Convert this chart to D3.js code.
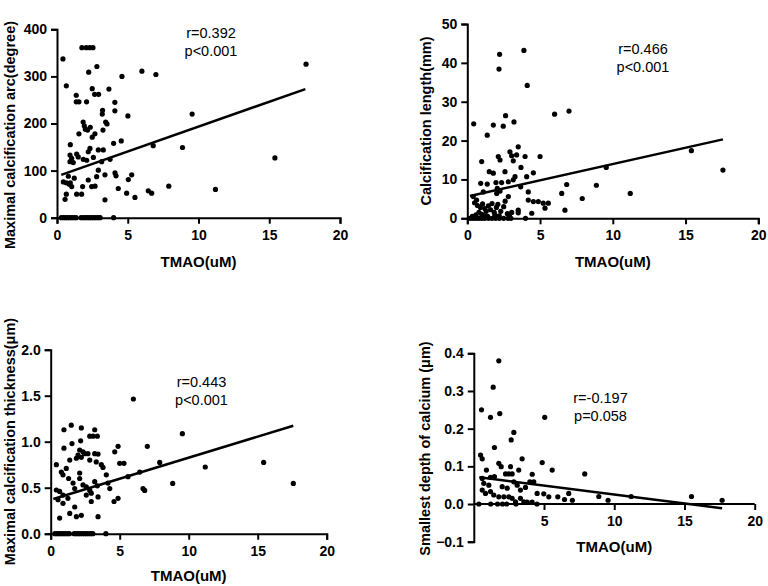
<!DOCTYPE html>
<html><head><meta charset="utf-8">
<script src="https://cdn.jsdelivr.net/npm/d3@7"></script>
<style>body{margin:0;background:#fff}svg{display:block}</style>
</head><body>
<svg id="c" width="768" height="586"></svg>
<script>
// ---------- data ----------
const xTicks = [0, 5, 10, 15, 20];
const xTicks4 = [5, 10, 15, 20];
const yTicks1 = [0, 100, 200, 300, 400];
const yTicks2 = [0, 10, 20, 30, 40, 50];
const yTicks3 = [0, 0.5, 1.0, 1.5, 2.0];
const yTicks4 = [-0.1, 0.0, 0.1, 0.2, 0.3, 0.4];

const titles = ["Maximal calcification arc(degree)", "Calcification length(mm)",
  "Maximal calcification thickness(\u03bcm)", "Smallest depth of calcium (\u03bcm)"];
const xTitle = "TMAO(uM)";
const stats = [["r=0.392", "p<0.001"], ["r=0.466", "p<0.001"], ["r=0.443", "p<0.001"], ["r=-0.197", "p=0.058"]];

// regression fits: [intercept, slope] and drawn x-range
const fits = [[87.8, 10.56], [5.6, 0.837], [0.368, 0.0458], [0.0729, -0.00477]];
const fitRanges = [[0.3, 17.55], [0.18, 17.57], [0.19, 17.58], [0.39, 17.68]];

const zeroX = [0.3, 0.45, 0.6, 0.75, 0.9, 1.05, 1.2, 1.35, 1.7, 1.85, 2.0, 2.15, 2.3, 2.45, 2.6, 2.75, 2.9, 3.05, 4.0];

const pts1 = [
  [0.42,337],[0.66,280],[1.76,361],[2.07,361],[2.31,361],[2.54,361],[2.82,321],[2.24,309],[6.0,311],[6.99,304],[4.59,300],[17.6,326],
  [2.49,274],[2.66,262],[2.94,262],[1.36,260],[1.36,246],[1.55,246],[2.09,246],[3.67,273],[4.09,245],[4.09,227],[3.22,228],[3.2,220],[5.01,216],[9.55,220],
  [1.85,203],[1.93,195],[2.35,192],[2.16,186],[2.0,188],[1.55,178],[2.68,178],[2.49,171],[3.44,203],[3.53,199],[3.25,186],
  [0.94,155],[2.92,144],[3.27,144],[2.33,147],[2.21,140],[1.39,135],[4.0,158],[4.54,163],[6.8,153],[8.87,149],[15.4,127],
  [0.92,133],[1.04,126],[0.92,119],[1.15,117],[1.5,129],[1.86,124],[2.1,122],[2.57,128],[3.16,119],[3.75,124],
  [2.92,101],[2.8,87],[3.39,91],[4.1,95],[4.17,89],[5.28,91],[5.04,81],[2.21,80],[1.22,84],[0.8,88],
  [0.45,76],[0.66,74],[0.94,74],[1.04,66],[0.87,71],[0.66,50],[0.57,39],[1.39,50],[1.74,50],[1.81,66],[2.45,66],[2.69,67],
  [4.33,62],[4.92,52],[5.51,43],[6.45,57],[6.69,52],[7.9,67],[11.2,60],[3.39,38]
].concat(zeroX.map(x => [x, 0]));

const pts2 = [
  [2.22,42.2],[3.89,43.2],[2.18,38.4],[4.12,34.2],[6.99,27.6],[6.0,26.8],[2.63,26.4],[3.21,24.8],[0.44,24.3],[1.79,24.0],[2.47,23.7],[1.37,21.4],[3.5,18.4],
  [2.93,17.1],[3.05,16.1],[2.13,15.9],[2.25,15.0],[3.39,16.3],[3.97,15.9],[5.0,15.9],[3.16,14.8],[0.99,14.6],[3.69,13.1],[15.4,17.4],[9.55,13.1],[17.57,12.4],
  [1.51,12.0],[1.79,11.6],[2.59,12.0],[4.54,11.7],[3.28,10.7],[3.16,9.9],[4.08,10.7],[2.82,9.4],[2.36,9.2],[1.97,9.2],[1.37,8.8],[0.92,9.0],[6.83,8.7],[8.87,8.5],
  [2.06,7.7],[2.25,7.0],[2.02,6.4],[1.1,6.8],[4.19,6.8],[6.49,6.4],[11.2,6.4],[3.67,8.1],[2.82,5.6],[7.9,5.1],
  [0.41,5.6],[0.64,4.7],[4.19,4.7],[4.54,4.3],[4.88,4.3],[5.22,3.9],[5.57,3.9],[5.34,2.6],[3.5,2.1],[3.5,1.4],[6.71,2.1],[4.43,1.3],
  [0.5,4.0],[0.7,3.3],[0.9,2.8],[1.05,3.7],[1.2,2.5],[1.3,1.8],[1.45,3.2],[1.6,2.2],[1.7,3.8],[1.85,1.5],[2.0,2.8],[2.1,3.6],[2.3,1.8],[2.5,3.0],[2.6,4.4],[2.75,1.2],
  [0.8,1.5],[1.0,1.0],[1.15,0.7],[1.4,0.5],[1.9,0.8],[2.2,0.6],[2.9,0.9],[3.05,1.5],[0.6,0.9],[0.35,0.5],
  [0.2,0],[0.4,0],[0.6,0],[0.8,0],[1.0,0],[1.2,0],[1.45,0],[1.7,0],[1.95,0],[2.2,0],[2.5,0],[2.8,0],[3.0,0],[4.0,0]
];

const pts3 = [
  [5.99,1.464],[1.49,1.18],[0.96,1.13],[2.22,1.15],[3.19,1.13],[2.83,1.06],[3.07,1.06],[3.38,1.06],[1.54,0.98],[2.17,1.01],[0.96,0.93],[9.54,1.087],
  [2.1,0.91],[2.34,0.89],[2.46,0.87],[1.98,0.855],[1.86,0.82],[2.22,0.83],[2.7,0.87],[2.83,0.80],[3.19,0.87],[3.43,0.866],[3.3,0.78],[3.67,0.75],[3.79,0.72],[4.03,0.64],
  [0.41,0.75],[0.77,0.67],[0.89,0.64],[1.13,0.71],[1.38,0.80],[1.3,0.60],[1.62,0.55],[1.74,0.49],[2.1,0.66],[2.1,0.60],[2.34,0.53],[2.58,0.51],[2.83,0.47],[3.19,0.565],[3.38,0.52],
  [4.15,0.55],[4.28,0.49],[4.88,0.95],[4.64,0.89],[5.0,0.765],[5.31,0.765],[5.6,0.62],[6.45,0.67],[6.69,0.49],[6.81,0.47],[7.0,0.95],[4.88,0.385],[4.59,0.35],
  [7.9,0.775],[15.43,0.775],[11.2,0.725],[8.84,0.547],[17.58,0.547],
  [0.41,0.475],[0.65,0.46],[0.89,0.42],[0.53,0.37],[0.89,0.33],[1.25,0.385],[1.38,0.22],[1.74,0.29],[1.86,0.185],[2.22,0.20],[2.94,0.44],[3.43,0.40],[2.94,0.35],[3.43,0.185],[0.65,0.17],[2.58,0.42]
].concat(zeroX.map(x => [x, 0]));

const pts4 = [
  [1.78,0.38],[1.38,0.31],[0.55,0.25],[1.19,0.23],[1.85,0.24],[5.05,0.23],[2.85,0.19],[2.66,0.17],[1.47,0.15],[0.48,0.13],[0.6,0.12],[3.44,0.12],
  [1.78,0.108],[1.95,0.099],[2.61,0.099],[0.9,0.09],[3.2,0.09],[4.87,0.11],[5.58,0.09],[2.26,0.08],[2.49,0.08],[2.73,0.08],[4.16,0.079],[7.9,0.08],
  [0.6,0.068],[1.19,0.071],[1.47,0.073],[3.99,0.059],[4.27,0.059],[0.71,0.055],[1.07,0.05],[2.02,0.046],[2.85,0.059],[3.09,0.05],[3.68,0.044],[3.32,0.037],[2.38,0.042],
  [0.6,0.037],[0.83,0.028],[1.19,0.033],[1.42,0.024],[1.78,0.019],[2.14,0.019],[2.49,0.019],[2.73,0.015],[3.32,0.015],[3.56,0.006],[2.97,0.006],[3.8,0.005],[4.15,0.005],
  [4.51,0.028],[4.98,0.027],[5.34,0.019],[5.98,0.019],[6.46,0.012],[6.76,0.028],[7.02,0.01],[8.9,0.02],[9.56,0.01],[11.2,0.02],[15.5,0.02],[17.68,0.01],
  [0.36,0],[1.2,0],[1.69,0],[2.04,0],[2.34,0],[3.0,0],[4.5,0]
];

// ---------- layout ----------
const panels = [
  {pts: pts1, yDom: [0, 400], yTicks: yTicks1, xTicks: xTicks, fmt: d3.format("d"),
   x0: 57, x1: 340, yT: 29.3, yB: 217.7, yTitleX: 15, yTitleY: 135, xTitleY: 266.5,
   statX: 211, statY: 37.5},
  {pts: pts2, yDom: [0, 50], yTicks: yTicks2, xTicks: xTicks, fmt: d3.format("d"),
   x0: 467.3, x1: 758.3, yT: 24, yB: 218.3, yTitleX: 431, yTitleY: 121, xTitleY: 266.5,
   statX: 643, statY: 53.5},
  {pts: pts3, yDom: [0, 2], yTicks: yTicks3, xTicks: xTicks, fmt: d3.format(".1f"),
   x0: 50.7, x1: 326.7, yT: 349.7, yB: 533.7, yTitleX: 15, yTitleY: 441.5, xTitleY: 581,
   statX: 201.5, statY: 387.3},
  {pts: pts4, yDom: [-0.1, 0.4], yTicks: yTicks4, xTicks: xTicks4, fmt: d3.format(".1f"),
   x0: 473.8, x1: 754.7, yT: 353.3, yB: 541.7, yTitleX: 430, yTitleY: 448.5, xTitleY: 552,
   statX: 600.5, statY: 403, xAtZero: true}
];

const svg = d3.select("#c");
const FONT = "'Liberation Sans', Arial, sans-serif";

panels.forEach((p, i) => {
  const x = d3.scaleLinear().domain([0, 20]).range([p.x0, p.x1]);
  const y = d3.scaleLinear().domain(p.yDom).range([p.yB, p.yT]);
  const g = svg.append("g");
  const xAxisY = p.xAtZero ? y(0) : p.yB;

  const yAx = g.append("g").attr("transform", `translate(${p.x0},0)`)
    .call(d3.axisLeft(y).tickValues(p.yTicks).tickFormat(p.fmt).tickSize(6).tickPadding(4));
  const xAx = g.append("g").attr("transform", `translate(0,${xAxisY})`)
    .call(d3.axisBottom(x).tickValues(p.xTicks).tickFormat(d3.format("d")).tickSize(6).tickPadding(6));
  if (p.xAtZero) xAx.select(".domain").attr("d", `M${p.x0},0H${p.x1}`);
  [yAx, xAx].forEach(a => {
    a.select(".domain").attr("stroke", "#000").attr("stroke-width", 2);
    a.selectAll(".tick line").attr("stroke", "#000").attr("stroke-width", 2);
    a.selectAll("text").attr("fill", "#000").style("font-family", FONT)
      .style("font-weight", "bold").style("font-size", "14px");
  });

  // points
  g.append("g").selectAll("circle").data(p.pts).join("circle")
    .attr("cx", d => x(d[0])).attr("cy", d => y(d[1])).attr("r", 2.6).attr("fill", "#000");

  // regression line
  const f = fits[i], r = fitRanges[i];
  g.append("path").datum(r.map(v => [v, f[0] + f[1] * v]))
    .attr("d", d3.line().x(d => x(d[0])).y(d => y(d[1])))
    .attr("stroke", "#000").attr("stroke-width", 2.5).attr("fill", "none");

  // titles
  g.append("text").attr("transform", `translate(${p.yTitleX},${p.yTitleY}) rotate(-90)`)
    .attr("text-anchor", "middle").style("font-family", FONT).style("font-weight", "bold")
    .style("font-size", "14.5px").text(titles[i]);
  g.append("text").attr("x", (p.x0 + p.x1) / 2).attr("y", p.xTitleY)
    .attr("text-anchor", "middle").style("font-family", FONT).style("font-weight", "bold")
    .style("font-size", "15px").text(xTitle);

  // stats
  stats[i].forEach((s, k) => {
    g.append("text").attr("x", p.statX).attr("y", p.statY + k * 18)
      .attr("text-anchor", "middle").style("font-family", FONT)
      .style("font-size", "14.5px").text(s);
  });
});
</script>
</body></html>
